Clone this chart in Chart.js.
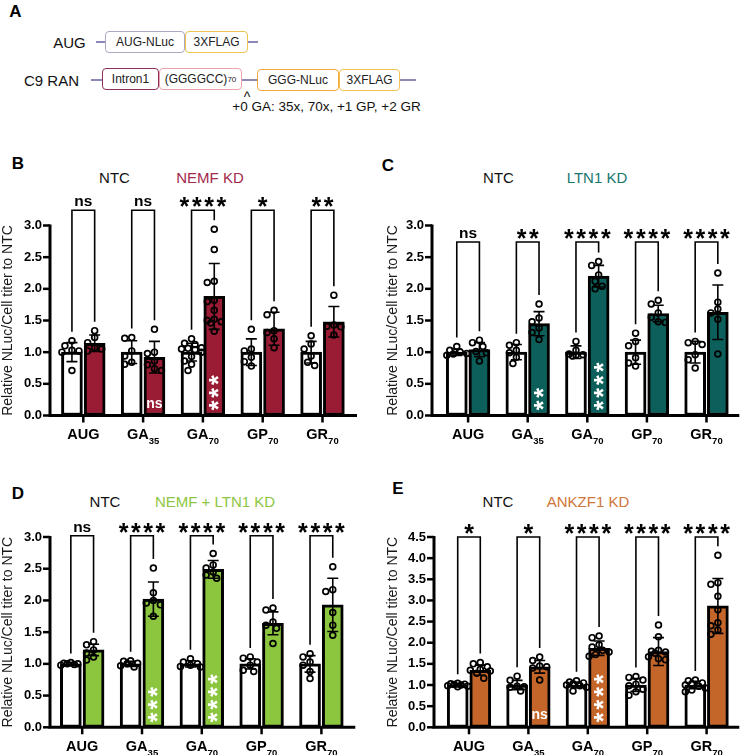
<!DOCTYPE html>
<html>
<head>
<meta charset="utf-8">
<script src="https://cdn.jsdelivr.net/npm/chart.js@4.4.1/dist/chart.umd.min.js"></script>
<style>
  body { margin: 0; background: #fff; font-family: "Liberation Sans", Arial, sans-serif; color: #111; }
  #page { position: relative; width: 742px; height: 755px; overflow: hidden; }
  .t { position: absolute; white-space: nowrap; transform: translate(-50%, -50%); line-height: 1; }
  .letter { font-weight: bold; font-size: 17px; color: #000; }
  .leg { font-size: 15px; }
  .box { position: absolute; box-sizing: border-box; border: 1.5px solid; border-radius: 4px; font-size: 12px;
         display: flex; align-items: center; justify-content: center; background: #fff; color: #222; }
  .box sub { font-size: 8px; vertical-align: -3px; }
  .ln { position: absolute; height: 1.5px; background: #8d89b6; }
  canvas { position: absolute; }
</style>
</head>
<body>
<div id="page">
  <!-- panel A: construct diagram -->
  <div class="t letter" style="left:15.5px;top:11px">A</div>
  <div class="t" style="left:69.5px;top:42px;font-size:15px">AUG</div>
  <div class="ln" style="left:96px;top:41px;width:9px"></div>
  <div class="box" style="left:105px;top:31px;width:80px;height:22px;border-color:#aba8c4">AUG-NLuc</div>
  <div class="box" style="left:185px;top:31px;width:63px;height:22px;border-color:#f0c24f">3XFLAG</div>
  <div class="ln" style="left:248px;top:41px;width:10px"></div>

  <div class="t" style="left:51.5px;top:80px;font-size:15px">C9 RAN</div>
  <div class="ln" style="left:91px;top:79px;width:11px"></div>
  <div class="box" style="left:102px;top:68px;width:57px;height:22px;border-color:#8c2f5f">Intron1</div>
  <div class="box" style="left:159px;top:68px;width:83px;height:22px;border-color:#e9a2ae">(GGGGCC)<sub>70</sub></div>
  <div class="ln" style="left:242px;top:79px;width:15px"></div>
  <div class="box" style="left:257px;top:69px;width:82px;height:22px;border-color:#f3a93c">GGG-NLuc</div>
  <div class="box" style="left:339px;top:69px;width:61px;height:22px;border-color:#f2c24f">3XFLAG</div>
  <div class="ln" style="left:400px;top:79px;width:16px"></div>
  <div class="t" style="left:247px;top:97px;font-size:14px">^</div>
  <div class="t" style="left:326.5px;top:107px;font-size:13.5px">+0 GA: 35x, 70x, +1 GP, +2 GR</div>

  <!-- panel letters and legends -->
  <div class="t letter" style="left:18px;top:163px">B</div>
  <div class="t leg" style="left:114.5px;top:177px">NTC</div>
  <div class="t leg" style="left:210px;top:177px;color:#a3284b">NEMF KD</div>

  <div class="t letter" style="left:388px;top:165px">C</div>
  <div class="t leg" style="left:498.5px;top:177px">NTC</div>
  <div class="t leg" style="left:597px;top:177px;color:#18776f">LTN1 KD</div>

  <div class="t letter" style="left:18px;top:493px">D</div>
  <div class="t leg" style="left:105px;top:501px">NTC</div>
  <div class="t leg" style="left:215px;top:501px;color:#8dc63f">NEMF + LTN1 KD</div>

  <div class="t letter" style="left:398px;top:488px">E</div>
  <div class="t leg" style="left:498px;top:501px">NTC</div>
  <div class="t leg" style="left:588px;top:501px;color:#d0763a">ANKZF1 KD</div>

  <canvas id="cB" width="370" height="285" style="left:0;top:170px"></canvas>
  <canvas id="cC" width="372" height="285" style="left:370px;top:170px"></canvas>
  <canvas id="cD" width="370" height="275" style="left:0;top:480px"></canvas>
  <canvas id="cE" width="372" height="275" style="left:370px;top:480px"></canvas>
</div>

<script>
// construct groups, "_" marks the subscript
const categories = ["AUG", "GA_35", "GA_70", "GP_70", "GR_70"];
const yTitle = "Relative NLuc/Cell titer to NTC";

// B: NEMF KD
const nemfNtcMean = [1.00, 1.00, 1.00, 1.00, 1.00];
const nemfNtcSd = [0.15, 0.18, 0.14, 0.21, 0.17];
const nemfNtcPts = [
  [1.18, 1.10, 1.03, 1.02, 1.00, 0.71],
  [1.23, 1.22, 1.02, 0.94, 0.84, 0.81],
  [1.21, 1.14, 1.12, 1.07, 1.06, 1.05, 1.04, 1.00, 0.93, 0.86, 0.81, 0.71],
  [1.36, 1.05, 1.02, 0.92, 0.85, 0.78],
  [1.26, 1.13, 1.05, 0.94, 0.84, 0.79],
];
const nemfKdMean = [1.14, 0.92, 1.88, 1.37, 1.48];
const nemfKdSd = [0.13, 0.25, 0.52, 0.26, 0.24];
const nemfKdPts = [
  [1.34, 1.23, 1.15, 1.07, 1.05, 1.02],
  [1.36, 1.00, 0.98, 0.86, 0.80, 0.74, 0.71],
  [2.94, 2.62, 2.12, 2.10, 1.82, 1.80, 1.66, 1.52, 1.50, 1.48, 1.46, 1.33],
  [1.66, 1.59, 1.34, 1.31, 1.21, 1.07],
  [1.90, 1.43, 1.41, 1.40, 1.27],
];
const nemfSig = ["ns", "ns", "****", "*", "**"];
const nemfInBar = ["", "ns", "***", "", ""];

// C: LTN1 KD
const ltnNtcMean = [1.00, 1.00, 1.00, 1.00, 1.00];
const ltnNtcSd = [0.05, 0.12, 0.10, 0.19, 0.17];
const ltnNtcPts = [
  [1.09, 1.03, 1.00, 0.98, 0.97, 0.95],
  [1.15, 1.11, 1.03, 0.99, 0.92, 0.82],
  [1.17, 1.03, 0.97, 0.96, 0.95, 0.94],
  [1.30, 1.17, 1.10, 0.91, 0.83, 0.78],
  [1.17, 1.15, 1.12, 0.96, 0.88, 0.75],
];
const ltnKdMean = [1.04, 1.45, 2.20, 1.61, 1.63];
const ltnKdSd = [0.11, 0.19, 0.17, 0.13, 0.43];
const ltnKdPts = [
  [1.19, 1.15, 1.09, 1.01, 0.99, 0.86],
  [1.76, 1.54, 1.48, 1.38, 1.31, 1.20],
  [2.43, 2.37, 2.22, 2.12, 2.04, 2.00],
  [1.82, 1.76, 1.62, 1.55, 1.48, 1.47],
  [2.25, 1.79, 1.68, 1.62, 1.52, 0.97],
];
const ltnSig = ["ns", "**", "****", "****", "****"];
const ltnInBar = ["", "**", "****", "", ""];

// D: NEMF + LTN1 KD
const dblNtcMean = [1.00, 1.00, 1.00, 1.00, 1.00];
const dblNtcSd = [0.02, 0.04, 0.05, 0.08, 0.13];
const dblNtcPts = [
  [1.02, 1.01, 1.00, 1.00, 0.99, 0.98],
  [1.05, 1.04, 1.01, 1.00, 0.97, 0.95],
  [1.08, 1.03, 1.00, 0.98, 0.96, 0.95],
  [1.11, 1.09, 1.03, 0.98, 0.90, 0.88],
  [1.16, 1.11, 1.03, 0.98, 0.88, 0.77],
];
const dblKdMean = [1.22, 2.02, 2.49, 1.64, 1.93];
const dblKdSd = [0.09, 0.27, 0.14, 0.18, 0.42];
const dblKdPts = [
  [1.35, 1.30, 1.22, 1.17, 1.11, 1.06],
  [2.51, 2.12, 2.00, 1.96, 1.93, 1.75],
  [2.74, 2.56, 2.51, 2.45, 2.40, 2.35],
  [1.88, 1.85, 1.66, 1.61, 1.56, 1.32],
  [2.53, 2.17, 2.14, 1.81, 1.61, 1.45],
];
const dblSig = ["ns", "****", "****", "****", "****"];
const dblInBar = ["", "***", "****", "", ""];

// E: ANKZF1 KD
const ankNtcMean = [1.00, 1.00, 1.00, 1.00, 1.00];
const ankNtcSd = [0.03, 0.11, 0.07, 0.15, 0.09];
const ankNtcPts = [
  [1.04, 1.03, 1.02, 1.01, 1.00, 0.98, 0.97, 0.96],
  [1.21, 1.11, 0.97, 0.96, 0.95, 0.86],
  [1.10, 1.07, 1.05, 1.03, 1.00, 0.98, 0.95, 0.86],
  [1.20, 1.18, 1.12, 1.02, 0.98, 0.90, 0.84, 0.76],
  [1.12, 1.10, 1.05, 1.03, 1.00, 0.97, 0.93, 0.88, 0.84],
];
const ankKdMean = [1.35, 1.43, 1.87, 1.79, 2.87];
const ankKdSd = [0.12, 0.15, 0.17, 0.33, 0.65];
const ankKdPts = [
  [1.53, 1.50, 1.43, 1.37, 1.35, 1.33, 1.28, 1.16],
  [1.66, 1.58, 1.45, 1.43, 1.40, 1.12],
  [2.16, 2.12, 1.95, 1.90, 1.82, 1.78, 1.72, 1.68],
  [2.42, 2.14, 1.82, 1.80, 1.78, 1.75, 1.67, 1.62, 1.60],
  [4.07, 3.42, 3.38, 3.10, 2.78, 2.47, 2.40, 2.30, 2.20],
];
const ankSig = ["*", "*", "****", "****", "****"];
const ankInBar = ["", "ns", "****", "", ""];

const FONT = '"Liberation Sans", Arial, sans-serif';
const GROUP_OFF = 0.19;  // NTC / KD bar centre offset from the group centre (category units)
const BAR_PX = 21;

const panels = [
  { canvas: "cB", ntcMean: nemfNtcMean, ntcSd: nemfNtcSd, ntcPts: nemfNtcPts, kdMean: nemfKdMean, kdSd: nemfKdSd,
    kdPts: nemfKdPts, sig: nemfSig, inBar: nemfInBar, color: "#9a1b34", yMax: 3.0, bracketAt: 3.24,
    padTop: 55.5, padRight: 17.6, yW: 53.4, xH: 39.5, axisGap: 3.4, extR: 4.6, titlePad: 0 },
  { canvas: "cC", ntcMean: ltnNtcMean, ntcSd: ltnNtcSd, ntcPts: ltnNtcPts, kdMean: ltnKdMean, kdSd: ltnKdSd,
    kdPts: ltnKdPts, sig: ltnSig, inBar: ltnInBar, color: "#0d5f5b", yMax: 3.0, bracketAt: 2.74,
    padTop: 55.5, padRight: 3.7, yW: 68.3, xH: 39.5, axisGap: 6.3, extR: 3, titlePad: 14.6 },
  { canvas: "cD", ntcMean: dblNtcMean, ntcSd: dblNtcSd, ntcPts: dblNtcPts, kdMean: dblKdMean, kdSd: dblKdSd,
    kdPts: dblKdPts, sig: dblSig, inBar: dblInBar, color: "#8cc63f", yMax: 3.0, bracketAt: 3.02,
    padTop: 57, padRight: 18.7, yW: 52.3, xH: 27.7, axisGap: 2.3, extR: 4, titlePad: 0 },
  { canvas: "cE", ntcMean: ankNtcMean, ntcSd: ankNtcSd, ntcPts: ankNtcPts, kdMean: ankKdMean, kdSd: ankKdSd,
    kdPts: ankKdPts, sig: ankSig, inBar: ankInBar, color: "#c4662a", yMax: 4.5, bracketAt: 4.5,
    padTop: 57, padRight: 4.7, yW: 69.3, xH: 27.7, axisGap: 5.3, extR: 3, titlePad: 14.6 },
];

// spread points sideways so the circles do not sit on top of each other (in px)
function swarm(values, pxPerUnit) {
  const placed = [];
  const res = new Array(values.length);
  const order = values.map((v, i) => i).sort((a, b) => values[b] - values[a]);
  for (const i of order) {
    const y = values[i] * pxPerUnit;
    let best = 0, bestScore = -1;
    for (const dx of [0, -3.5, 3.5, -7, 7, -10, 10]) {
      let minD = Infinity;
      for (const p of placed) minD = Math.min(minD, Math.hypot(p.x - dx, p.y - y));
      if (minD >= 6.5) { best = dx; break; }
      if (minD > bestScore) { bestScore = minD; best = dx; }
    }
    placed.push({ x: best, y });
    res[i] = best;
  }
  return res;
}

// draw text so that its glyphs are centred on (cx, cy)
function drawCentered(ctx, text, cx, cy) {
  const m = ctx.measureText(text);
  ctx.textAlign = "center";
  ctx.textBaseline = "alphabetic";
  ctx.fillText(text, cx, cy + (m.actualBoundingBoxAscent - m.actualBoundingBoxDescent) / 2);
}

function drawSig(ctx, text, cx, cy, color) {
  ctx.fillStyle = color;
  if (/^\*+$/.test(text)) {
    ctx.font = "bold 25px " + FONT;
    const sp = 12.3, n = text.length;
    for (let k = 0; k < n; k++) drawCentered(ctx, "*", cx + (k - (n - 1) / 2) * sp, cy);
  } else {
    ctx.font = "bold 15.5px " + FONT;
    drawCentered(ctx, text, cx, cy);
  }
}

function panelPlugin(P) {
  return {
    id: "extras",
    afterDatasetDraw(chart, args) {
      if (args.index !== 2) return; // after the NTC bars: error bars go under the points
      const ctx = chart.ctx, ys = chart.scales.y;
      ctx.save();
      ctx.strokeStyle = "#000";
      ctx.lineWidth = 1.6;
      [[2, P.ntcMean, P.ntcSd], [3, P.kdMean, P.kdSd]].forEach(([d, mean, sd]) => {
        chart.getDatasetMeta(d).data.forEach((bar, i) => {
          const x = bar.x;
          const t = ys.getPixelForValue(mean[i] + sd[i]), b = ys.getPixelForValue(mean[i] - sd[i]);
          ctx.beginPath();
          ctx.moveTo(x, t); ctx.lineTo(x, b);
          ctx.moveTo(x - 5.5, t); ctx.lineTo(x + 5.5, t);
          ctx.moveTo(x - 5.5, b); ctx.lineTo(x + 5.5, b);
          ctx.stroke();
        });
      });
      ctx.restore();
    },
    afterDraw(chart) {
      const { ctx, chartArea: a } = chart;
      const xs = chart.scales.x, ys = chart.scales.y;
      const y0 = ys.getPixelForValue(0), yTop = ys.getPixelForValue(P.yMax);
      const ax = a.left - P.axisGap;
      const ntcBars = chart.getDatasetMeta(2).data, kdBars = chart.getDatasetMeta(3).data;
      ctx.save();
      ctx.strokeStyle = "#000";

      // axes
      ctx.lineWidth = 3;
      ctx.beginPath();
      ctx.moveTo(ax, yTop - 1); ctx.lineTo(ax, y0 + 1.5);
      ctx.moveTo(ax - 1.5, y0); ctx.lineTo(a.right + P.extR, y0);
      ctx.stroke();
      ctx.lineWidth = 2.5;
      ys.ticks.forEach(t => {
        const py = ys.getPixelForValue(t.value);
        ctx.beginPath(); ctx.moveTo(ax - 7, py); ctx.lineTo(ax, py); ctx.stroke();
      });
      categories.forEach((c, i) => {
        const px = xs.getPixelForValue(i);
        ctx.beginPath(); ctx.moveTo(px, y0); ctx.lineTo(px, y0 + 7); ctx.stroke();
      });

      // x labels with subscripts
      ctx.fillStyle = "#000";
      ctx.textBaseline = "alphabetic";
      ctx.textAlign = "left";
      categories.forEach((c, i) => {
        const [base, sub] = c.split("_");
        const px = xs.getPixelForValue(i);
        ctx.font = "bold 14.5px " + FONT;
        const wb = ctx.measureText(base).width;
        ctx.font = "bold 9.5px " + FONT;
        const ws = sub ? ctx.measureText(sub).width : 0;
        const x = px - (wb + ws) / 2, base_y = y0 + 23.7;
        ctx.font = "bold 14.5px " + FONT;
        ctx.fillText(base, x, base_y);
        if (sub) { ctx.font = "bold 9.5px " + FONT; ctx.fillText(sub, x + wb, base_y + 4.5); }
      });

      // significance brackets
      const yb = ys.getPixelForValue(P.bracketAt);
      ctx.lineWidth = 1.6;
      ctx.lineJoin = "miter";
      categories.forEach((c, i) => {
        const xl = ntcBars[i].x, xr = kdBars[i].x;
        const topL = Math.max(...P.ntcPts[i], P.ntcMean[i] + P.ntcSd[i]);
        const topR = Math.max(...P.kdPts[i], P.kdMean[i] + P.kdSd[i]);
        const lb = ys.getPixelForValue(topL) - 9, rb = ys.getPixelForValue(topR) - 9;
        ctx.beginPath();
        ctx.moveTo(xl, lb); ctx.lineTo(xl, yb); ctx.lineTo(xr, yb); ctx.lineTo(xr, rb);
        ctx.stroke();
        drawSig(ctx, P.sig[i], (xl + xr) / 2, yb - 8, "#000");
      });

      // white labels inside the knockdown bars (vs AUG)
      ctx.fillStyle = "#fff";
      P.inBar.forEach((txt, i) => {
        if (!txt) return;
        const x = kdBars[i].x;
        if (txt === "ns") {
          ctx.font = "bold 14px " + FONT;
          drawCentered(ctx, txt, x, y0 - 12);
        } else {
          ctx.font = "bold 25px " + FONT;
          for (let k = 0; k < txt.length; k++) {
            ctx.save();
            ctx.translate(x, y0 - 10 - k * 12.7);
            ctx.rotate(-Math.PI / 2);
            drawCentered(ctx, "*", 0, 0);
            ctx.restore();
          }
        }
      });
      ctx.restore();
    },
  };
}

panels.forEach(P => {
  const cv = document.getElementById(P.canvas);
  const areaH = cv.height - P.padTop - P.xH;
  const catPx = (cv.width - P.yW - P.padRight) / categories.length;
  const pxPerUnit = areaH / P.yMax;
  const pointsFor = (pts, side) => pts.flatMap((vals, i) => {
    const dx = swarm(vals, pxPerUnit);
    return vals.map((v, k) => ({ x: i + side * GROUP_OFF + dx[k] / catPx, y: v }));
  });
  const barsFor = (means, side) => means.map((v, i) => ({ x: i + side * GROUP_OFF, y: v }));
  const pointStyle = {
    type: "scatter", showLine: false, clip: false,
    pointRadius: 2.9, pointBorderWidth: 1.7, pointBorderColor: "#000",
    pointBackgroundColor: "rgba(0,0,0,0)",
  };
  const barStyle = {
    type: "bar", borderColor: "#000", borderWidth: 3, borderSkipped: false,
    grouped: false, barThickness: BAR_PX,
  };

  new Chart(cv, {
    type: "bar",
    data: {
      datasets: [
        { ...pointStyle, label: "NTC points", data: pointsFor(P.ntcPts, -1) },
        { ...pointStyle, label: "KD points", data: pointsFor(P.kdPts, 1) },
        { ...barStyle, label: "NTC", data: barsFor(P.ntcMean, -1), backgroundColor: "#fff" },
        { ...barStyle, label: "KD", data: barsFor(P.kdMean, 1), backgroundColor: P.color },
      ],
    },
    options: {
      responsive: false,
      animation: false,
      devicePixelRatio: 1,
      layout: { padding: { top: P.padTop, right: P.padRight, left: 0, bottom: 0 } },
      plugins: { legend: { display: false }, tooltip: { enabled: false } },
      scales: {
        x: {
          type: "linear", min: -0.5, max: 4.5, offset: false,
          grid: { display: false, drawTicks: false, offset: false }, border: { display: false },
          ticks: { display: false },
          afterFit: s => { s.height = P.xH; },
        },
        y: {
          min: 0, max: P.yMax,
          grid: { display: false, drawTicks: false }, border: { display: false },
          ticks: {
            stepSize: 0.5, color: "#000", padding: P.axisGap + 8,
            font: { family: FONT, size: 13, weight: "bold" },
            callback: v => v.toFixed(1),
          },
          title: {
            display: true, text: yTitle, color: "#1a1a1a",
            font: { family: FONT, size: 14 }, padding: { top: P.titlePad, bottom: 0 },
          },
          afterFit: s => { s.width = P.yW; },
        },
      },
    },
    plugins: [panelPlugin(P)],
  });
});
</script>
</body>
</html>
